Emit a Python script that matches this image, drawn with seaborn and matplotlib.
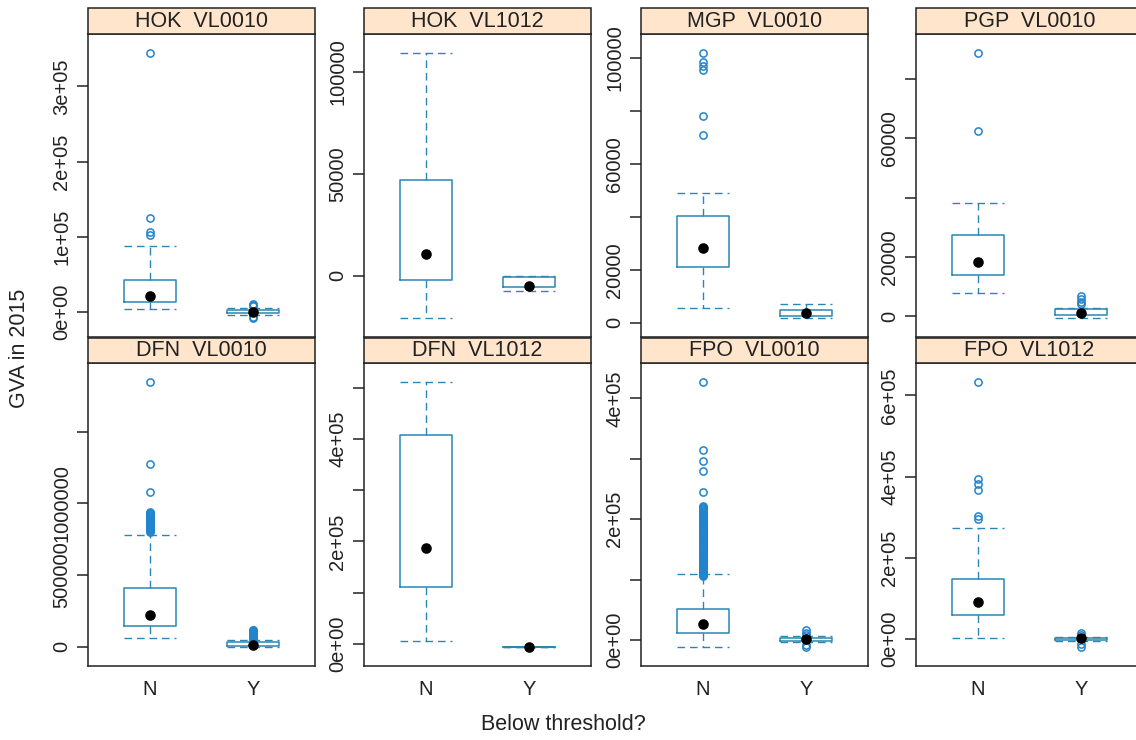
import matplotlib
matplotlib.use("Agg")
import matplotlib.pyplot as plt
from matplotlib.patches import Rectangle
import pandas as pd
import seaborn as sns

# ---- data -----------------------------------------------------------------
panels = ["HOK  VL0010", "HOK  VL1012", "MGP  VL0010", "PGP  VL0010",
          "DFN  VL0010", "DFN  VL1012", "FPO  VL0010", "FPO  VL1012"]
groups = ["N", "Y"]

# box-and-whisker summaries, one [N, Y] pair per panel
whisker_low = [[4400, -3500], [-20900, -7400], [5440, 1660], [7670, -780],
               [63600, -5000], [6500, -6600], [-12200, -4000], [4100, -5000]]
box_q1 = [[13300, -1000], [-2100, -5700], [21180, 2530], [13750, 240],
          [141200, 2000], [111200, -6600], [11100, -1000], [59300, -1500]]
median = [[20700, 500], [10600, -5200], [28360, 3550], [18380, 1150],
          [223900, 10000], [186600, -6600], [26100, 2000], [92100, 2000]]
box_q3 = [[42900, 2500], [46900, -600], [40350, 4800], [27360, 2260],
          [407500, 30000], [407100, -6600], [51100, 3000], [148100, 2500]]
whisker_high = [[88400, 5000], [109500, -300], [48900, 7070], [38070, 2840],
                [781700, 50000], [511800, -6600], [109500, 6000], [274000, 6000]]

outliers = [
    [[345000, 125000, 106000, 102000], [11000, 9000, 7500, -6000, -8500]],
    [[], []],
    [[102000, 98500, 96800, 95500, 78000, 71000], []],
    [[89000, 62500], [6800, 5800, 4800, 4000]],
    [[1848000, 1271000, 1075000, 941000, 934000, 925000, 918000, 911000,
      906000, 898000, 890000, 884000, 876000, 870000, 863000, 858000, 850000,
      843000, 837000, 830000, 824000, 818000, 812000, 806000, 800000],
     [118000, 113000, 108000, 103000, 99000, 94000, 90000, 86000, 82000,
      78000, 74000, 70000, 65000, 61000, 57000]],
    [[], []],
    [[427800, 315000, 297000, 280500, 244500,
      222000, 220500, 219000, 217000, 215500, 214000, 212000, 210500, 209000,
      207500, 205500, 204000, 202500, 201000, 199000, 197500, 196000, 194000,
      192500, 191000, 189500, 187500, 186000, 184500, 183000, 181000, 179500,
      178000, 176000, 174500, 173000, 171500, 169500, 168000, 166500, 165000,
      163000, 161500, 160000, 158000, 156500, 155000, 153500, 151500, 150000,
      148500, 147000, 145000, 143500, 142000, 140000, 138500, 137000, 135500,
      133500, 132000, 130500, 129000, 127000, 125500, 124000, 122000, 120500,
      119000, 117500, 115500, 114000, 112500, 111000, 109000, 107500, 106000],
     [16000, 12000, 9000, -8000, -12000]],
    [[633800, 395000, 381000, 366000, 304000, 296000], [15000, 10000, -12000, -20000]],
]

ytick_values = [
    [0, 100000, 200000, 300000],
    [0, 50000, 100000],
    [0, 20000, 40000, 60000, 80000, 100000],
    [0, 20000, 40000, 60000, 80000],
    [0, 500000, 1000000, 1500000],
    [0, 100000, 200000, 300000, 400000, 500000],
    [0, 100000, 200000, 300000, 400000],
    [0, 200000, 400000, 600000],
]
ytick_labels = [
    ["0e+00", "1e+05", "2e+05", "3e+05"],
    ["0", "50000", "100000"],
    ["0", "20000", "", "60000", "", "100000"],
    ["0", "20000", "", "60000", ""],
    ["0", "500000", "1000000", ""],
    ["0e+00", "", "2e+05", "", "4e+05", ""],
    ["0e+00", "", "2e+05", "", "4e+05"],
    ["0e+00", "2e+05", "4e+05", "6e+05"],
]

# ---- long-form table of summaries -------------------------------------------
rows = []
for p, name in enumerate(panels):
    for g, grp in enumerate(groups):
        rows.append(dict(panel=name, group=grp, pos=g,
                         lo=whisker_low[p][g], q1=box_q1[p][g], med=median[p][g],
                         q3=box_q3[p][g], hi=whisker_high[p][g],
                         fliers=outliers[p][g]))
df = pd.DataFrame(rows)

# ---- style ------------------------------------------------------------------
sns.set_theme(style="white")
plt.rcParams["font.family"] = ["Liberation Sans", "DejaVu Sans"]

BOX_COL = "#2a86b4"
PT_COL = "#2284cc"
STRIP_BG = "#ffe5cc"
TXT = "#222222"
DASH = (0, (5.5, 3.5))


def draw_panel(data, **kws):
    ax = plt.gca()
    stats = [dict(med=r.med, q1=r.q1, q3=r.q3, whislo=r.lo, whishi=r.hi,
                  fliers=list(r.fliers)) for r in data.itertuples()]
    ax.bxp(stats, positions=data["pos"].tolist(), widths=0.5, capwidths=0.5,
           manage_ticks=False, showfliers=True,
           boxprops=dict(color=BOX_COL, linewidth=1.1),
           whiskerprops=dict(color=BOX_COL, linewidth=1.0, linestyle=DASH),
           capprops=dict(color=BOX_COL, linewidth=1.0, linestyle=DASH),
           medianprops=dict(linewidth=0),
           flierprops=dict(marker="o", markerfacecolor="none",
                           markeredgecolor=PT_COL, markersize=5.2,
                           markeredgewidth=1.1, linestyle="none"))
    ax.scatter(data["pos"], data["med"], s=58, color="black", zorder=5,
               linewidths=0)
    # lattice-style 7% padding of the data range
    vals = list(data["lo"]) + list(data["hi"])
    for f in data["fliers"]:
        vals += list(f)
    lo, hi = min(vals), max(vals)
    pad = 0.07 * (hi - lo)
    ax.set_ylim(lo - pad, hi + pad)


g = sns.FacetGrid(df, col="panel", col_order=panels, col_wrap=4,
                  sharex=False, sharey=False, despine=False, height=3, aspect=0.75)
g.map_dataframe(draw_panel)

fig = g.figure
fig.set_size_inches(11.36, 7.40)
W, H = 1136.0, 740.0

lefts = [88, 364, 641, 916]
panel_w = 227
rows_px = [(34, 337), (363, 666)]
strip_px = 25.5

for i, ax in enumerate(g.axes.flat):
    r, c = divmod(i, 4)
    top, bot = rows_px[r]
    ax.set_position([lefts[c] / W, 1 - bot / H, panel_w / W, (bot - top) / H])
    ax.set_title("")
    ax.set_xlabel("")
    ax.set_ylabel("")
    ax.set_xlim(-0.6, 1.6)
    ax.set_xticks([0, 1])
    if r == 1:
        ax.set_xticklabels(groups)
    else:
        ax.set_xticklabels(["", ""])
    ax.set_yticks(ytick_values[i])
    ax.set_yticklabels(ytick_labels[i])
    ax.tick_params(axis="x", length=0, pad=10, labelsize=14.5, colors=TXT)
    ax.tick_params(axis="y", left=True, right=False, length=8, width=1.1,
                   pad=4, labelsize=14.5, colors=TXT, direction="out")
    for lab in ax.get_yticklabels():
        lab.set_rotation(90)
        lab.set_va("center")
    for sp in ax.spines.values():
        sp.set_color(TXT)
        sp.set_linewidth(1.1)
    ax.grid(False)
    # strip header
    h = strip_px / (bot - top)
    ax.add_patch(Rectangle((0, 1), 1, h, transform=ax.transAxes, clip_on=False,
                           facecolor=STRIP_BG, edgecolor=TXT, linewidth=1.1,
                           zorder=3))
    ax.text(0.5, 1 + h / 2, panels[i], transform=ax.transAxes, ha="center",
            va="center", fontsize=15.5, color=TXT, zorder=4)

fig.text(563 / W, 1 - 725 / H, "Below threshold?", ha="center", va="center",
         fontsize=15.5, color=TXT)
fig.text(20 / W, 1 - 348 / H, "GVA in 2015", ha="center", va="center",
         rotation=90, fontsize=15.5, color=TXT)

fig.savefig("out.png", dpi=100, facecolor="white")
